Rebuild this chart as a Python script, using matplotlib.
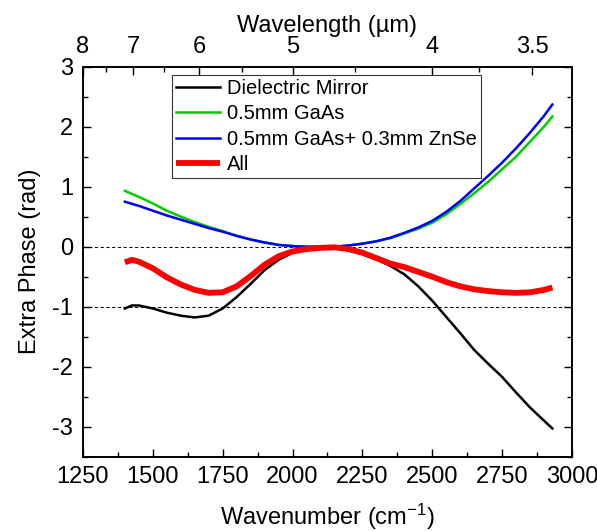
import numpy as np
import matplotlib
matplotlib.use("Agg")
import matplotlib.pyplot as plt
from matplotlib.ticker import MultipleLocator

plt.rcParams["font.family"] = ["Liberation Sans", "DejaVu Sans"]
plt.rcParams["mathtext.fontset"] = "custom"
plt.rcParams["mathtext.rm"] = "Liberation Sans"
plt.rcParams["mathtext.it"] = "Liberation Sans:italic"
plt.rcParams["mathtext.bf"] = "Liberation Sans:bold"
plt.rcParams["axes.unicode_minus"] = False

# wavenumber grid (cm^-1) shared by all curves
wavenumber = [1400, 1425, 1450, 1500, 1550, 1600, 1650, 1700, 1750, 1800, 1850,
              1900, 1950, 2000, 2050, 2100, 2150, 2200, 2250, 2300, 2350,
              2400, 2450, 2500, 2550, 2600, 2650, 2700, 2750, 2800, 2850,
              2900, 2930]

# extra phase (rad)
mirror = [-1.03, -0.98, -0.98, -1.03, -1.10, -1.15, -1.18, -1.15, -1.03, -0.84, -0.62,
          -0.39, -0.22, -0.10, -0.04, -0.01, -0.02, -0.06, -0.12, -0.21, -0.32,
          -0.46, -0.66, -0.90, -1.17, -1.44, -1.72, -1.95, -2.17, -2.43, -2.68,
          -2.90, -3.03]
gaas = [0.93, 0.88, 0.83, 0.72, 0.60, 0.50, 0.41, 0.33, 0.26, 0.18, 0.12,
        0.07, 0.03, 0.01, 0.00, 0.00, 0.00, 0.02, 0.05, 0.09, 0.14,
        0.22, 0.30, 0.40, 0.54, 0.71, 0.89, 1.08, 1.29, 1.50, 1.75,
        2.00, 2.17]
gaas_znse = [0.75, 0.715, 0.68, 0.60, 0.52, 0.45, 0.38, 0.31, 0.25, 0.18, 0.12,
             0.07, 0.03, 0.01, 0.00, 0.00, 0.00, 0.02, 0.05, 0.09, 0.15,
             0.23, 0.32, 0.43, 0.58, 0.76, 0.97, 1.18, 1.40, 1.64, 1.90,
             2.18, 2.37]
total = [-0.26, -0.22, -0.25, -0.36, -0.51, -0.63, -0.72, -0.77, -0.76, -0.66, -0.49,
         -0.30, -0.16, -0.08, -0.04, -0.02, -0.01, -0.04, -0.10, -0.19, -0.28,
         -0.34, -0.42, -0.50, -0.59, -0.66, -0.71, -0.74, -0.76, -0.77, -0.76,
         -0.72, -0.68]

# top axis: wavelength (um)
wl_major = [8, 7, 6, 5, 4, 3.5]
wl_major_labels = ["8", "7", "6", "5", "4", "3.5"]
wl_minor = [7.5, 6.5, 5.5, 4.5, 3.75]

fig = plt.figure(figsize=(5.97, 5.31), dpi=100)
ax = fig.add_axes([0.139, 0.140, 0.819, 0.7344])

ax.axhline(0, color="black", lw=0.75, ls=(0, (3, 2.5)), zorder=1)
ax.axhline(-1, color="black", lw=0.75, ls=(0, (3, 2.5)), zorder=1)

ax.plot(wavenumber, mirror, color="black", lw=1.8, label="Dielectric Mirror")
ax.plot(wavenumber, gaas, color="#00cc00", lw=1.8, label="0.5mm GaAs")
ax.plot(wavenumber, gaas_znse, color="#0000ff", lw=1.8,
        label="0.5mm GaAs+ 0.3mm ZnSe")
ax.plot(wavenumber, total, color="#ff0000", lw=4.2, label="All",
        solid_capstyle="butt")

ax.set_xlim(1250, 3000)
ax.set_ylim(-3.5, 3)
ax.xaxis.set_major_locator(MultipleLocator(250))
ax.xaxis.set_minor_locator(MultipleLocator(125))
ax.yaxis.set_major_locator(MultipleLocator(1))
ax.yaxis.set_minor_locator(MultipleLocator(0.5))
ax.tick_params(which="both", direction="in", right=True, top=False,
               labelsize=17, width=1.0)
ax.tick_params(which="major", length=6, pad=7)
ax.tick_params(which="minor", length=3.5)
for sp in ax.spines.values():
    sp.set_linewidth(1.2)

ax.set_xlabel("Wavenumber (cm$^{-1}$)", fontsize=17, labelpad=10)
ax.set_ylabel("Extra Phase (rad)", fontsize=17, labelpad=8)

# wavelength scale on top
top = ax.twiny()
top.set_xlim(ax.get_xlim())
top.set_xticks([1e4 / w for w in wl_major])
top.set_xticklabels(wl_major_labels)
top.set_xticks([1e4 / w for w in wl_minor], minor=True)
top.tick_params(which="both", direction="in", labelsize=17, width=1.0)
top.tick_params(which="major", length=6, pad=6)
top.tick_params(which="minor", length=3.5)
top.set_xlabel("Wavelength (\u00b5m)", fontsize=17, labelpad=3)
for sp in top.spines.values():
    sp.set_linewidth(1.2)

leg = ax.legend(loc="upper left", bbox_to_anchor=(0.182, 0.979),
                fontsize=14.5, frameon=True, fancybox=False,
                handlelength=2.2, handletextpad=0.35, borderpad=0.2,
                labelspacing=0.32, borderaxespad=0)
leg.get_frame().set_edgecolor("black")
leg.get_frame().set_linewidth(0.8)

fig.savefig("out.png", dpi=100)
